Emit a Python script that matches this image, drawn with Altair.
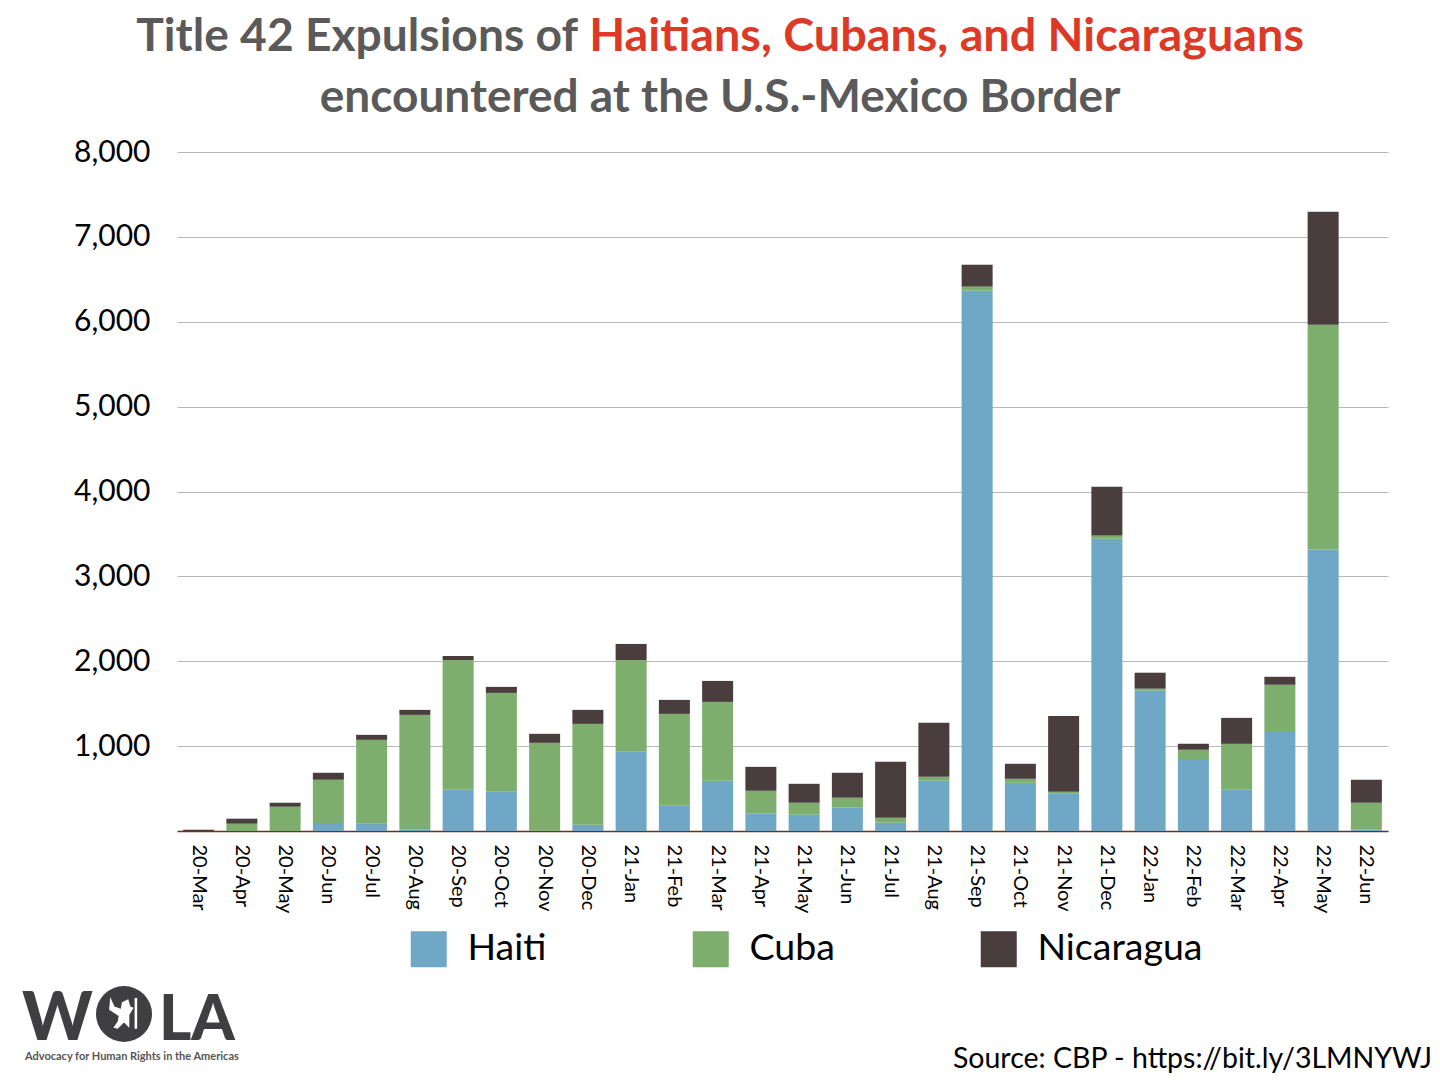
import altair as alt
import pandas as pd

months = ["20-Mar","20-Apr","20-May","20-Jun","20-Jul","20-Aug","20-Sep","20-Oct","20-Nov","20-Dec",
          "21-Jan","21-Feb","21-Mar","21-Apr","21-May","21-Jun","21-Jul","21-Aug","21-Sep","21-Oct",
          "21-Nov","21-Dec","22-Jan","22-Feb","22-Mar","22-Apr","22-May","22-Jun"]
haiti = [0,0,0,94,86,15,486,462,4,74,933,298,592,208,192,279,98,592,6366,568,444,3444,1654,848,486,1178,3318,15]
cuba = [0,86,286,510,988,1353,1529,1165,1035,1188,1082,1082,929,266,141,113,58,47,48,47,18,39,23,109,541,545,2647,318]
nicaragua = [15,59,47,82,59,59,47,71,106,165,189,165,247,282,223,294,659,635,258,177,894,574,188,71,306,94,1332,271]
series = ["Haiti","Cuba","Nicaragua"]
colors = ["#6FA8C7","#7DAE6D","#4A3D3D"]
y_ticks = [1000,2000,3000,4000,5000,6000,7000,8000]

title_grey = "Title 42 Expulsions of"
title_red = "Haitians, Cubans, and Nicaraguans"
title_line2 = "encountered at the U.S.-Mexico Border"
source = "Source: CBP - https://bit.ly/3LMNYWJ"
tagline = "Advocacy for Human Rights in the Americas"

rows = []
for i, m in enumerate(months):
    for j, (s, v) in enumerate(zip(series, (haiti, cuba, nicaragua))):
        rows.append({"month": m, "series": s, "value": v[i], "rank": j})
df = pd.DataFrame(rows)

W, H = 1211, 679
OX, OY = 177, 152

bars = alt.Chart(df).mark_bar(width=31).encode(
    x=alt.X("month:N", sort=months, title=None,
            scale=alt.Scale(paddingInner=0.28, paddingOuter=0.14),
            axis=alt.Axis(labelAngle=90, labelFontSize=20, labelFont="Lato", labelColor="#000000",
                          labelPadding=13, ticks=False, domainColor="#7A2A20", domainWidth=1.5,
                          labelOverlap=False, grid=False)),
    y=alt.Y("value:Q", stack="zero", title=None,
            scale=alt.Scale(domain=[0, 8000], nice=False),
            axis=alt.Axis(values=y_ticks, labelExpr="format(datum.value, ',.0f')", labelFontSize=30, labelFont="Lato",
                          labelColor="#000000", labelPadding=27, ticks=False, domain=False,
                          gridColor="#B8B8B8", gridWidth=1)),
    color=alt.Color("series:N", sort=series, title=None,
                    scale=alt.Scale(domain=series, range=colors),
                    legend=alt.Legend(orient="none", legendX=410-OX, legendY=930-OY, direction="horizontal",
                                      columns=3, columnPadding=145, symbolType="square", symbolSize=1296,
                                      symbolStrokeWidth=0, symbolOpacity=1, labelFontSize=37.5, labelFont="Lato",
                                      labelColor="#000000", labelOffset=20, padding=0, labelLimit=400)),
    order=alt.Order("rank:Q"),
)

def text(s, x, y, size, color, weight="normal", align="left"):
    return alt.Chart(pd.DataFrame({"t": [s]})).mark_text(
        font="Lato", fontSize=size, fontWeight=weight, color=color, align=align, baseline="alphabetic"
    ).encode(text="t:N", x=alt.value(x-OX), y=alt.value(y-OY))

def disc(x, y, size, color, shape="circle"):
    return alt.Chart(pd.DataFrame({"k": [1]})).mark_point(
        filled=True, opacity=1, color=color, size=size, shape=shape, strokeWidth=0
    ).encode(x=alt.value(x-OX), y=alt.value(y-OY))

GREY = "#5A5A5A"
LOGO = "#3F3F41"
bird = ("M-0.65,-0.8 L-0.45,-0.35 L-0.15,-0.25 L-0.1,-0.55 L0.2,-0.7 L0.3,-0.35 L0.45,-0.3 L0.25,0.05 "
        "L0.25,0.65 L0.0,0.4 L-0.3,0.7 L-0.5,0.65 L-0.3,0.35 L-0.25,0.1 L-0.7,-0.2 Z "
        "M0.5,-0.75 L0.62,-0.75 L0.62,0.7 L0.5,0.7 Z")

chart = alt.layer(
    bars,
    text(title_grey, 578, 51, 46.2, GREY, "bold", "right"),
    text(title_red, 1304, 51, 46.75, "#DC3A26", "bold", "right"),
    text(title_line2, 720, 112, 46, GREY, "bold", "center"),
    text(source, 1432, 1068, 28.5, "#000000", "normal", "right"),
    text("W", 22, 1040, 67, LOGO, 900),
    disc(124, 1014, 3136, LOGO),
    disc(124, 1014, 1800, "#FFFFFF", bird),
    text("LA", 159, 1040, 62, LOGO, 900),
    text(tagline, 25, 1060, 11, "#555555", "bold"),
).properties(
    width=W, height=H,
    autosize=alt.AutoSizeParams(type="none"),
    padding={"left": OX-8, "top": OY-8, "right": 1440-OX-W-8, "bottom": 1076-OY-H},
).configure_view(stroke=None)

chart.save("out.html", embed_options={"renderer": "svg", "actions": False})
